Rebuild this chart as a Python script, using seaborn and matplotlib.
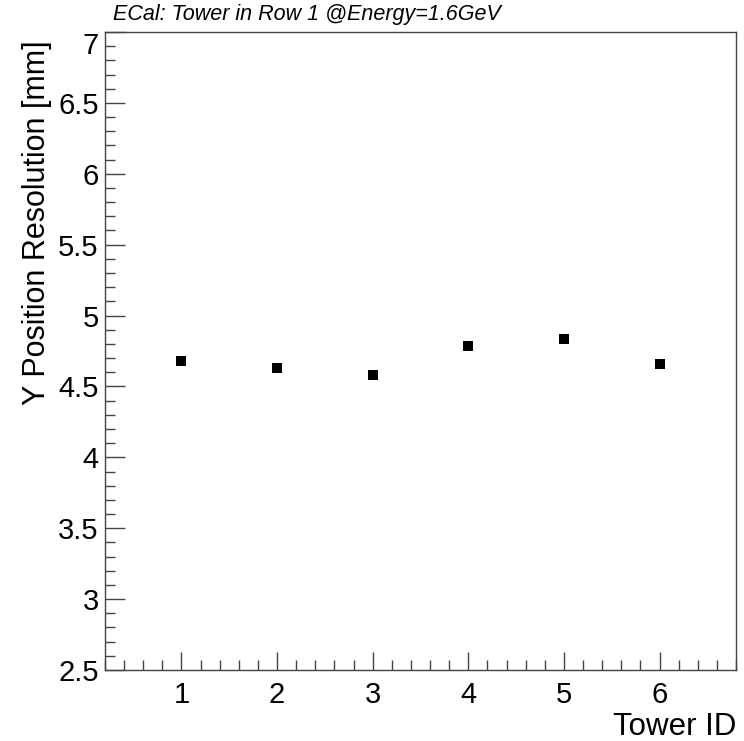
import matplotlib
matplotlib.use("Agg")
import matplotlib.pyplot as plt
import seaborn as sns
import pandas as pd
from matplotlib.ticker import MultipleLocator

tower_id = [1, 2, 3, 4, 5, 6]
y_resolution = [4.677, 4.630, 4.584, 4.786, 4.833, 4.660]
x_tick_labels = ["1", "2", "3", "4", "5", "6"]
y_tick_values = [2.5, 3, 3.5, 4, 4.5, 5, 5.5, 6, 6.5, 7]
y_tick_labels = ["2.5", "3", "3.5", "4", "4.5", "5", "5.5", "6", "6.5", "7"]

sns.set_style("white")
plt.rcParams['font.family'] = ['Liberation Sans', 'DejaVu Sans']
plt.rcParams['text.color'] = 'black'
plt.rcParams['axes.labelcolor'] = 'black'
plt.rcParams['xtick.color'] = 'black'
plt.rcParams['ytick.color'] = 'black'

df = pd.DataFrame({"Tower ID": tower_id, "Y Position Resolution [mm]": y_resolution})

W, H = 744, 741
fig = plt.figure(figsize=(W / 100, H / 100), dpi=100)
ax = fig.add_axes([105 / W, (H - 670) / H, (736 - 105) / W, (670 - 32) / H])

sns.scatterplot(data=df, x="Tower ID", y="Y Position Resolution [mm]", ax=ax,
                marker="s", s=62, color="black", linewidth=0, legend=False)

ax.set_xlim(0.2, 6.8)
ax.set_ylim(2.5, 7.0)
ax.xaxis.set_minor_locator(MultipleLocator(0.2))
ax.yaxis.set_minor_locator(MultipleLocator(0.1))
ax.set_yticks(y_tick_values)
ax.set_yticklabels(y_tick_labels)
ax.set_xticks(tower_id)
ax.set_xticklabels(x_tick_labels)

tick_col = "#444444"
ax.tick_params(axis="y", which="major", direction="in", length=14.4, width=1,
               color=tick_col, labelsize=21, pad=4.5)
ax.tick_params(axis="y", which="minor", direction="in", length=7, width=1,
               color=tick_col)
ax.tick_params(axis="x", which="major", direction="in", length=13, width=1,
               color=tick_col, labelsize=21, pad=8)
ax.tick_params(axis="x", which="minor", direction="in", length=7, width=1,
               color=tick_col)
ax.tick_params(bottom=True, left=True, top=False, right=False, which="both")

# top y label is pushed down (as in the reference)
ylabels = ax.get_yticklabels()
ylabels[-1].set_va("top")

for sp in ax.spines.values():
    sp.set_visible(True)
    sp.set_color(tick_col)
    sp.set_linewidth(1.0)

ax.set_xlabel("Tower ID", fontsize=22.5, loc="right")
ax.xaxis.label.set_va("baseline")
ax.xaxis.set_label_coords(1.0, (670 - 735) / 638)

ax.set_ylabel("Y Position Resolution [mm]", fontsize=22, loc="top")
ax.yaxis.set_label_coords((52 - 105) / 631, (670 - 40) / 638)

fig.text(113 / W, 1 - 20 / H, "ECal: Tower in Row 1 @Energy=1.6GeV",
         fontsize=15.5, style="italic", ha="left", va="baseline")

fig.savefig("out.png", dpi=100, facecolor="white")
